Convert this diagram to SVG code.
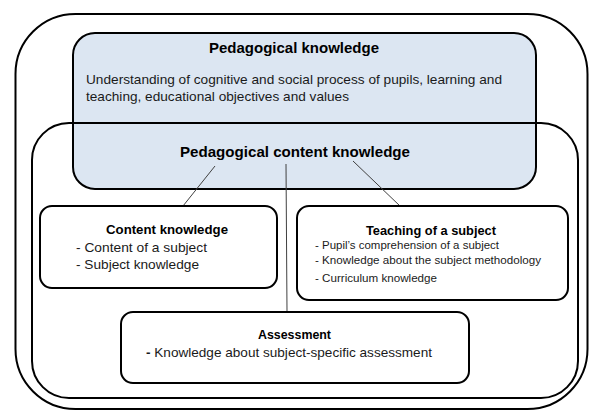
<svg xmlns="http://www.w3.org/2000/svg" width="590" height="411" viewBox="0 0 590 411">
<style>
  .frame{fill:none;stroke:#000;stroke-width:2}
  .box{fill:#fff;stroke:#000;stroke-width:2}
  .blue{fill:#dce6f2;stroke:#000;stroke-width:2}
  .conn{stroke:#404040;stroke-width:1;fill:none}
  text{font-family:"Liberation Sans",Arial,sans-serif;fill:#1a1a1a}
  .t{font-weight:bold;fill:#000}
</style>
<rect x="0" y="0" width="590" height="411" fill="#fff"/>
<g id="outer"><rect class="frame" x="15.5" y="14" width="572" height="395" rx="60" ry="60"/></g>
<g id="pedagogical-knowledge">
  <rect class="blue" x="73" y="33" width="463" height="156" rx="22" ry="22"/>
  <text class="t" x="294" y="52.5" font-size="14.5" text-anchor="middle" textLength="170" lengthAdjust="spacingAndGlyphs">Pedagogical knowledge</text>
  <text x="86" y="84" font-size="13.5" textLength="416" lengthAdjust="spacingAndGlyphs">Understanding of cognitive and social process of pupils, learning and</text>
  <text x="86" y="101" font-size="13.5" textLength="263" lengthAdjust="spacingAndGlyphs">teaching, educational objectives and values</text>
</g>
<g id="pedagogical-content-knowledge">
  <rect class="frame" x="32" y="123" width="546" height="275" rx="37" ry="37"/>
  <text class="t" x="295" y="157" font-size="15.5" text-anchor="middle" textLength="230" lengthAdjust="spacingAndGlyphs">Pedagogical content knowledge</text>
</g>
<g id="connectors">
  <line class="conn" x1="215" y1="166" x2="183" y2="206"/>
  <line class="conn" x1="286" y1="164" x2="287" y2="312"/>
  <line class="conn" x1="353" y1="161" x2="400" y2="206"/>
</g>
<g id="content-knowledge">
  <rect class="box" x="40" y="206" width="237" height="82" rx="12" ry="12"/>
  <text class="t" x="167" y="234" font-size="12.5" text-anchor="middle" textLength="122" lengthAdjust="spacingAndGlyphs">Content knowledge</text>
  <text x="76" y="252" font-size="13" textLength="131" lengthAdjust="spacingAndGlyphs">- Content of a subject</text>
  <text x="76" y="269" font-size="13" textLength="123" lengthAdjust="spacingAndGlyphs">- Subject knowledge</text>
</g>
<g id="teaching-of-a-subject">
  <rect class="box" x="297" y="206" width="271" height="94" rx="12" ry="12"/>
  <text class="t" x="431" y="235" font-size="12.5" text-anchor="middle" textLength="130" lengthAdjust="spacingAndGlyphs">Teaching of a subject</text>
  <text x="315" y="249" font-size="10.5" textLength="184" lengthAdjust="spacingAndGlyphs">- Pupil’s comprehension of a subject</text>
  <text x="315" y="263.5" font-size="10.5" textLength="226" lengthAdjust="spacingAndGlyphs">- Knowledge about the subject methodology</text>
  <text x="315" y="281.5" font-size="10.5" textLength="122" lengthAdjust="spacingAndGlyphs">- Curriculum knowledge</text>
</g>
<g id="assessment">
  <rect class="box" x="121" y="312" width="348" height="71" rx="12" ry="12"/>
  <text class="t" x="294.5" y="339" font-size="12.5" text-anchor="middle" textLength="73" lengthAdjust="spacingAndGlyphs">Assessment</text>
  <text x="146" y="357" font-size="13" textLength="286" lengthAdjust="spacingAndGlyphs"><tspan font-weight="bold">-</tspan> Knowledge about subject-specific assessment</text>
</g>
</svg>
